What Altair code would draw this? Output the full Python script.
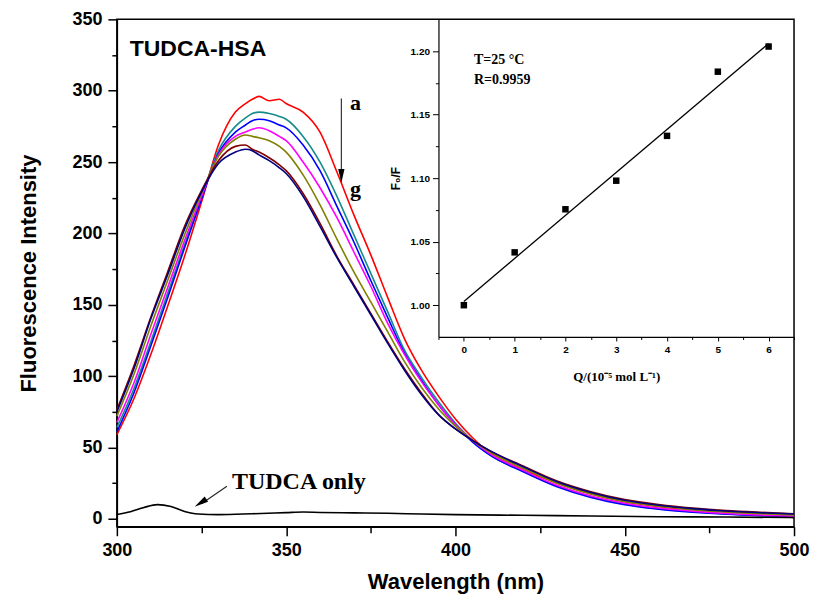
import altair as alt
import pandas as pd

# ---------------- data ----------------
wl = [300, 305, 310, 315, 320, 325, 330, 335, 338, 340, 342, 345, 348, 350, 355, 360, 365, 370,
      375, 380, 385, 390, 395, 400, 405, 410, 420, 430, 440, 450, 460, 470, 480, 490, 500]
curve_a = [59, 84, 115, 149, 184, 222, 262, 285, 291, 294, 296, 293, 294, 291, 285, 271, 243, 213,
           185, 155, 126, 104, 86, 70, 57, 46.5, 34.5, 25, 17.5, 12, 8.6, 6.4, 4.8, 3.8, 3.2]
curve_b = [64, 91, 124, 158, 192, 225, 258, 275, 281, 284, 285, 284, 282, 280, 268, 250, 226, 199,
           172, 145, 118, 99, 82, 67, 55, 45, 33.5, 23, 15.5, 10.5, 7.2, 5, 3.5, 2.4, 1.6]
curve_c = [61, 88, 121, 155, 190, 224, 256, 271, 276, 279, 280, 279, 276, 274, 262, 244, 219, 194,
           167, 141, 116, 97, 80, 66, 54, 45, 33, 22.5, 15, 10, 6.8, 4.7, 3.2, 2.2, 1.5]
curve_d = [67.5, 95, 129, 162, 195, 226, 255, 268, 271, 273, 274, 272, 268, 265, 250, 232, 211, 187,
           163, 137, 115, 96, 80, 66, 55, 46, 34, 23.5, 16, 11, 7.6, 5.4, 3.8, 2.7, 1.8]
curve_e = [72, 101, 135, 167, 199, 228, 254, 266, 269, 268, 267, 265, 261, 257, 241, 220, 196, 173,
           152, 131, 110, 92, 77, 65, 55, 47, 35.5, 25, 17.5, 12.2, 8.8, 6.5, 4.8, 3.6, 2.8]
curve_f = [76.5, 107, 141, 173, 205, 230, 251, 261, 262, 259, 257, 253, 248, 244, 228, 207, 184, 164,
           144, 124, 105, 88, 73, 63, 55, 48, 37, 26.5, 19, 13.5, 10, 7.5, 5.8, 4.6, 3.6]
curve_g = [75, 105, 140, 171, 203, 229, 249, 257, 259, 258, 255, 251, 246, 242, 226, 205, 183, 163,
           143, 123, 104, 87, 73, 63, 55, 48, 36.5, 26, 18.5, 13, 9.6, 7.2, 5.5, 4.3, 3.4]
series_names = ["a", "b", "c", "d", "e", "f", "g"]
series_colors = ["#ff0000", "#148c8c", "#0000ff", "#ff00ff", "#808000", "#800000", "#000080"]

tudca_wl = [300, 304, 308, 312, 316, 320, 324, 330, 340, 350, 355, 360, 370, 380, 390, 400, 420,
            440, 460, 480, 500]
tudca_val = [3.1, 5.0, 8.0, 10.0, 8.6, 5.2, 3.4, 3.0, 3.6, 4.4, 4.8, 4.5, 4.2, 3.9, 3.4, 3.0, 2.5,
             2.0, 1.5, 1.3, 0.9]

inset_q = [0, 1, 2, 3, 4, 5, 6]
inset_ratio = [1.000, 1.0416, 1.0755, 1.098, 1.1333, 1.1838, 1.2036]
fit_q = [0, 6]
fit_ratio = [1.003, 1.206]

x_ticks = list(range(300, 501, 25))
y_ticks = list(range(0, 351, 25))
inset_y_ticks = [1.0, 1.025, 1.05, 1.075, 1.1, 1.125, 1.15, 1.175, 1.2]
inset_x_ticks = [-0.5, 0, 0.5, 1, 1.5, 2, 2.5, 3, 3.5, 4, 4.5, 5, 5.5, 6, 6.5]

# ---------------- tables ----------------
rows = []
for name, vals in zip(series_names,
                      [curve_a, curve_b, curve_c, curve_d, curve_e, curve_f, curve_g]):
    for w, v in zip(wl, vals):
        rows.append({"wl": w, "val": v, "s": name})
spectra = pd.DataFrame(rows)
tudca = pd.DataFrame({"wl": tudca_wl, "val": tudca_val})
inset_pts = pd.DataFrame({"q": inset_q, "r": inset_ratio})
inset_fit = pd.DataFrame({"q": fit_q, "r": fit_ratio})

SANS = "Liberation Sans"
SERIF = "Liberation Serif"
W, H = 678, 508

x_scale = alt.Scale(domain=[300, 500], nice=False, zero=False)
y_scale = alt.Scale(domain=[-5.5, 350], nice=False, zero=False)

x_axis = alt.Axis(
    values=x_ticks, title="Wavelength (nm)", grid=False,
    labelExpr="datum.value % 50 === 0 ? datum.label : ''",
    tickSize={"condition": {"test": "datum.value % 50 === 0", "value": 9}, "value": 6},
    labelFont=SANS, labelFontSize=18, labelFontWeight="bold", labelColor="black",
    labelPadding=6, labelOverlap=False, labelFlush=False,
    titleFont=SANS, titleFontSize=22, titleFontWeight="bold", titleColor="black",
    titlePadding=12, domainColor="black", domainWidth=1.5, tickColor="black", tickWidth=1.5,
)
y_axis = alt.Axis(
    values=y_ticks, title="Fluorescence Intensity", grid=False,
    labelExpr="datum.value % 50 === 0 ? datum.label : ''",
    tickSize={"condition": {"test": "datum.value % 50 === 0", "value": 9}, "value": 5},
    labelFont=SANS, labelFontSize=18, labelFontWeight="bold", labelColor="black",
    labelPadding=6, labelOverlap=False, labelFlush=False,
    titleFont=SANS, titleFontSize=22, titleFontWeight="bold", titleColor="black",
    titlePadding=31, domainColor="black", domainWidth=1.5, tickColor="black", tickWidth=1.5,
)
X = alt.X("wl:Q", scale=x_scale, axis=x_axis)
Y = alt.Y("val:Q", scale=y_scale, axis=y_axis)

curves = alt.Chart(spectra).mark_line(strokeWidth=1.6, interpolate="monotone").encode(
    x=X, y=Y,
    color=alt.Color("s:N", scale=alt.Scale(domain=series_names, range=series_colors), legend=None),
    order=alt.Order("s:N", sort="descending"),
)
tudca_line = alt.Chart(tudca).mark_line(color="black", strokeWidth=1.6,
                                         interpolate="monotone").encode(x=X, y=Y)

# annotations (positions in data units)
ann_sans = pd.DataFrame({"wl": [303.8], "val": [324.5], "label": ["TUDCA-HSA"]})
ann_ag = pd.DataFrame({"wl": [370.5, 370.5], "val": [286.5, 226.5], "label": ["a", "g"]})
ann_only = pd.DataFrame({"wl": [334.0], "val": [20.6], "label": ["TUDCA only"]})

t_sans = alt.Chart(ann_sans).mark_text(align="left", baseline="alphabetic", font=SANS,
                                        fontSize=23, fontWeight="bold", color="black").encode(
    x=X, y=Y, text="label:N")
t_ag = alt.Chart(ann_ag).mark_text(align="center", baseline="alphabetic", font=SERIF,
                                    fontSize=22, fontWeight="bold", color="black").encode(
    x=X, y=Y, text="label:N")
t_only = alt.Chart(ann_only).mark_text(align="left", baseline="alphabetic", font=SERIF,
                                        fontSize=24, fontWeight="bold", color="black").encode(
    x=X, y=Y, text="label:N")

arrows = pd.DataFrame({"wl": [366.3, 332.5], "val": [294.5, 22.9],
                       "wl2": [366.3, 325.2], "val2": [241.0, 10.9]})
arrow_lines = alt.Chart(arrows).mark_rule(color="#222222", strokeWidth=1.1).encode(
    x=X, y=Y, x2="wl2:Q", y2="val2:Q")
HEAD = "M-0.45,-1L0.45,-1L0,1Z"
heads = pd.DataFrame({"wl": [366.3, 324.7], "val": [240.2, 11.2], "ang": [0, 57]})
arrow_heads = alt.Chart(heads).mark_point(shape=HEAD, filled=True, size=196, color="black",
                                          opacity=1, strokeWidth=0).encode(
    x=X, y=Y, angle=alt.Angle("ang:Q", scale=None))

main = alt.layer(curves, tudca_line, t_sans, t_ag, t_only, arrow_lines, arrow_heads)

# ---------------- inset ----------------
ix_scale = alt.Scale(domain=[-0.5, 6.5], range=[322, W], nice=False, zero=False)
iy_scale = alt.Scale(domain=[0.975, 1.225], range=[318, 0], nice=False, zero=False)
ix_axis = alt.Axis(
    orient="bottom", offset=-190, values=inset_x_ticks, grid=False, format=".0f",
    title="Q/(10⁻⁵ mol L⁻¹)",
    labelExpr="datum.value % 1 === 0 ? datum.label : ''",
    tickSize={"condition": {"test": "datum.value % 1 === 0", "value": 4}, "value": 2.5},
    labelFont=SANS, labelFontSize=10, labelFontWeight="bold", labelColor="black",
    labelPadding=4, labelOverlap=False, labelFlush=False,
    titleFont=SERIF, titleFontSize=13, titleFontWeight="bold", titleColor="black",
    titlePadding=16, domainColor="black", domainWidth=1.2, tickColor="black", tickWidth=1,
)
iy_axis = alt.Axis(
    orient="left", offset=-322, values=inset_y_ticks, grid=False, title="F₀/F", format=".2f",
    labelExpr="round(datum.value * 1000) % 50 === 0 ? datum.label : ''",
    tickSize={"condition": {"test": "round(datum.value * 1000) % 50 === 0", "value": 6},
              "value": 3},
    labelFont=SANS, labelFontSize=10, labelFontWeight="bold", labelColor="black",
    labelPadding=3, labelOverlap=False, labelFlush=False,
    titleFont=SANS, titleFontSize=12, titleFontWeight="bold", titleColor="black",
    titlePadding=8, domainColor="black", domainWidth=1.2, tickColor="black", tickWidth=1,
)
IX = alt.X("q:Q", scale=ix_scale, axis=ix_axis)
IY = alt.Y("r:Q", scale=iy_scale, axis=iy_axis)

pts = alt.Chart(inset_pts).mark_square(size=42, color="black", opacity=1).encode(x=IX, y=IY)
fit = alt.Chart(inset_fit).mark_line(color="black", strokeWidth=1.3).encode(x=IX, y=IY)
inset_txt = pd.DataFrame({"q": [0.2, 0.2], "r": [1.1897, 1.174],
                          "label": ["T=25 °C", "R=0.9959"]})
itext = alt.Chart(inset_txt).mark_text(align="left", baseline="alphabetic", font=SERIF,
                                       fontSize=14, fontWeight="bold", color="black").encode(
    x=IX, y=IY, text="label:N")
inset = alt.layer(fit, pts, itext)

chart = alt.layer(main, inset).resolve_scale(x="independent", y="independent").properties(
    width=W, height=H,
    autosize=alt.AutoSizeParams(type="none"),
    padding={"left": 109, "top": 11, "right": 16, "bottom": 70},
    background="white",
).configure_view(stroke="black", strokeWidth=1.5)

chart.save("out.html", embed_options={"renderer": "svg", "actions": False})
